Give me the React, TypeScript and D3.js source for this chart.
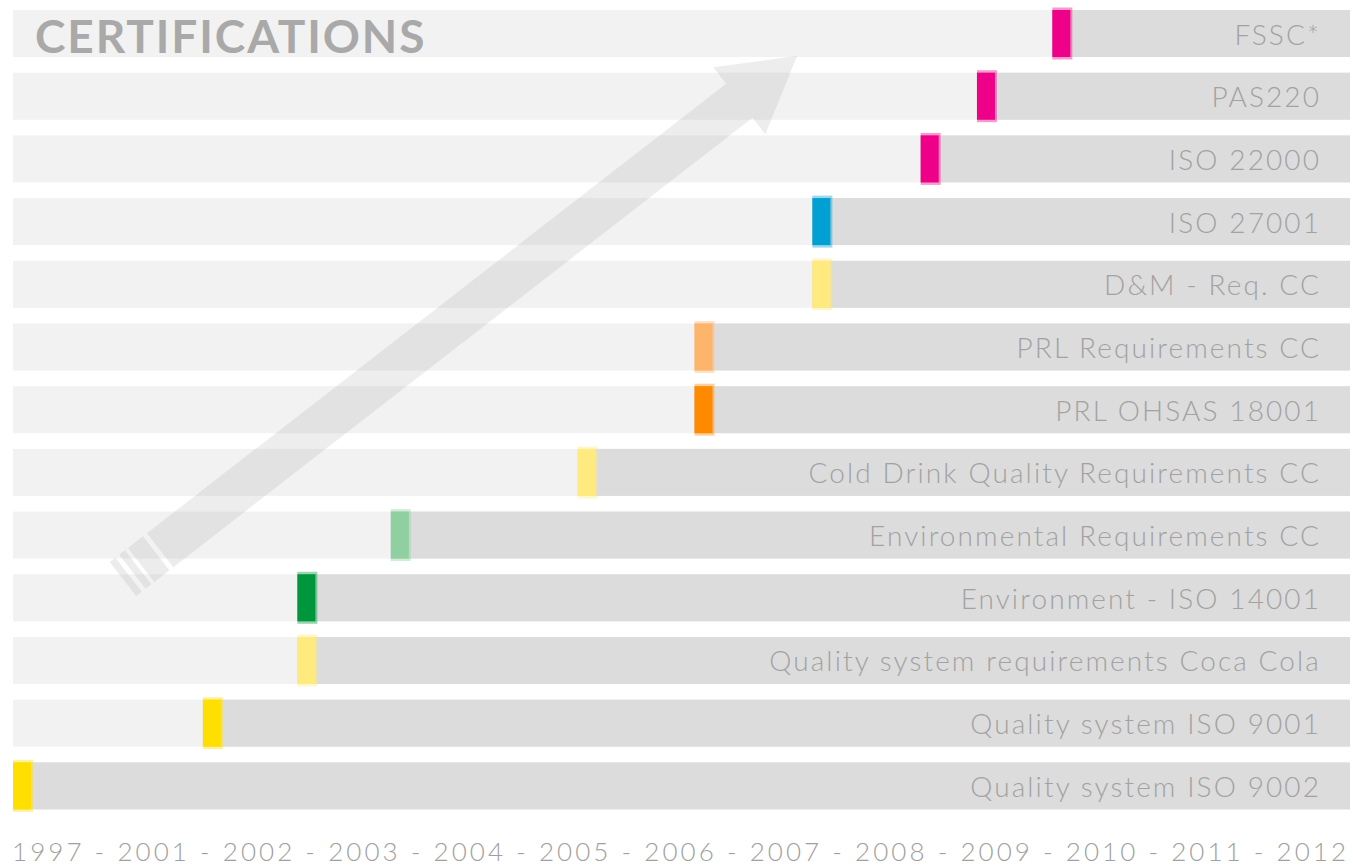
import React from "react";
import * as d3 from "d3";

const certifications = [
  "FSSC*",
  "PAS220",
  "ISO 22000",
  "ISO 27001",
  "D&M - Req. CC",
  "PRL Requirements CC",
  "PRL OHSAS 18001",
  "Cold Drink Quality Requirements CC",
  "Environmental Requirements CC",
  "Environment - ISO 14001",
  "Quality system requirements Coca Cola",
  "Quality system ISO 9001",
  "Quality system ISO 9002",
];

const startYears = [
  2009.63, 2008.92, 2008.39, 2007.37, 2007.37, 2006.26, 2006.26, 2005.16, 2003.4,
  2002.52, 2002.52, 2001.63, 1997,
];

const markerColors = [
  "#ee0088",
  "#ee0088",
  "#ee0088",
  "#00a0d2",
  "#ffea80",
  "#ffb46b",
  "#ff8a00",
  "#ffea80",
  "#8fd0a0",
  "#00963c",
  "#ffea80",
  "#ffdf00",
  "#ffdf00",
];

const yearTicks = [
  "1997", "2001", "2002", "2003", "2004", "2005", "2006",
  "2007", "2008", "2009", "2010", "2011", "2012",
];

const W = 1353;
const H = 866;
const LEFT = 13;
const RIGHT = 1350;
const FONT = "Lato, 'Open Sans', sans-serif";

export default function App() {
  const y = d3
    .scaleBand<string>()
    .domain(certifications)
    .range([10, 809.4])
    .paddingInner(0.25)
    .paddingOuter(0);

  const x = d3
    .scaleLinear()
    .domain([1997, 2001, 2012])
    .range([22, 145, 1313]);

  const markerW = 18;
  const bw = y.bandwidth();

  // arrow geometry (decorative)
  const tail: [number, number] = [123, 579];
  const tip: [number, number] = [797, 56];
  const L = Math.hypot(tip[0] - tail[0], tip[1] - tail[1]);
  const ang = (Math.atan2(tip[1] - tail[1], tip[0] - tail[0]) * 180) / Math.PI;
  const hw = 21.5;
  const headL = 73;
  const headW = 42.5;
  const arrowPath = [
    `M47,${-hw}`,
    `L${L - headL},${-hw}`,
    `L${L - headL},${-headW}`,
    `L${L},0`,
    `L${L - headL},${headW}`,
    `L${L - headL},${hw}`,
    `L47,${hw}`,
    "Z",
  ].join(" ");
  const stripes = [
    [0, 7],
    [12, 19],
    [23, 42],
  ];

  return (
    <svg
      width={W}
      height={H}
      style={{ position: "absolute", left: 0, top: 0, background: "#fff" }}
    >
      {certifications.map((c, i) => {
        const top = y(c)!;
        const cx = x(startYears[i]);
        const mx = Math.max(LEFT, cx - markerW / 2);
        return (
          <g key={c}>
            <rect x={LEFT} y={top} width={RIGHT - LEFT} height={bw} fill="#f2f2f2" />
            <rect x={mx} y={top} width={RIGHT - mx} height={bw} fill="#dcdcdc" />
            <rect
              x={mx}
              y={top - 2.5}
              width={markerW + 2}
              height={bw + 5}
              fill={markerColors[i]}
              opacity={0.4}
            />
            <rect x={mx} y={top} width={markerW} height={bw} fill={markerColors[i]} />
            <text
              x={1321}
              y={top + bw / 2}
              textAnchor="end"
              dominantBaseline="central"
              fontFamily={FONT}
              fontWeight={300}
              fontSize={28}
              letterSpacing={2.1}
              fill="#a2a2a2"
            >
              {c}
            </text>
          </g>
        );
      })}

      <g transform={`translate(${tail[0]},${tail[1]}) rotate(${ang})`} fill="#919191" opacity={0.16}>
        <path d={arrowPath} />
        {stripes.map(([a, b], k) => (
          <rect key={k} x={a} y={-hw} width={b - a} height={hw * 2} />
        ))}
      </g>

      <text
        x={35}
        y={53}
        fontFamily={FONT}
        fontWeight={700}
        fontSize={46}
        letterSpacing={1.9}
        fill="#a9a9a9"
      >
        CERTIFICATIONS
      </text>

      <text
        x={12}
        y={861}
        fontFamily={FONT}
        fontWeight={300}
        fontSize={26}
        fill="#a0a0a0"
        textLength={1334}
        lengthAdjust="spacing"
      >
        {yearTicks.join(" - ")}
      </text>
    </svg>
  );
}
